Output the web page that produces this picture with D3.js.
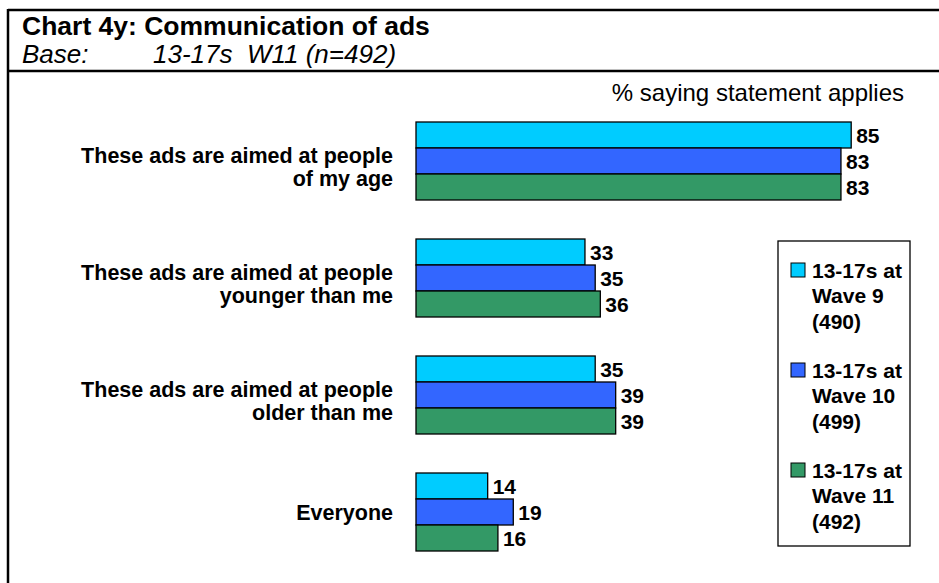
<!DOCTYPE html>
<html>
<head>
<meta charset="utf-8">
<script src="https://cdn.jsdelivr.net/npm/d3@7"></script>
<style>
  body { margin: 0; background: #fff; }
  text { font-family: Arial, "Liberation Sans", sans-serif; fill: #000; }
</style>
</head>
<body>
<div id="chart"></div>
<script>
// chart data
var categories = ["age", "younger", "older", "everyone"];
var categoryLabels = [
  ["These ads are aimed at people", "of my age"],
  ["These ads are aimed at people", "younger than me"],
  ["These ads are aimed at people", "older than me"],
  ["Everyone"]
];
var seriesNames = ["wave9", "wave10", "wave11"];
var legendLabels = [
  ["13-17s at", "Wave 9", "(490)"],
  ["13-17s at", "Wave 10", "(499)"],
  ["13-17s at", "Wave 11", "(492)"]
];
var wave9 = [85, 33, 35, 14];
var wave10 = [83, 35, 39, 19];
var wave11 = [83, 36, 39, 16];
var colors = ["#00ccff", "#3366ff", "#339966"];

var svgWidth = 939;
var svgHeight = 583;

var svg = d3.select("#chart")
  .append("svg")
  .attr("width", svgWidth)
  .attr("height", svgHeight);

// frame + header
svg.append("line").attr("x1", 8).attr("x2", svgWidth).attr("y1", 10).attr("y2", 10)
  .attr("stroke", "#000").attr("stroke-width", 2.5);
svg.append("line").attr("x1", 8).attr("x2", 8).attr("y1", 9).attr("y2", svgHeight)
  .attr("stroke", "#000").attr("stroke-width", 2.5);
svg.append("line").attr("x1", 8).attr("x2", svgWidth).attr("y1", 71).attr("y2", 71)
  .attr("stroke", "#000").attr("stroke-width", 2.5);

svg.append("text").attr("x", 22).attr("y", 35)
  .style("font-size", "26.5px").style("font-weight", "bold")
  .text("Chart 4y: Communication of ads");
svg.append("text").attr("x", 22).attr("y", 63)
  .style("font-size", "26px").style("font-style", "italic")
  .text("Base:");
svg.append("text").attr("x", 153).attr("y", 63)
  .style("font-size", "26px").style("font-style", "italic")
  .attr("xml:space", "preserve")
  .text("13-17s  W11 (n=492)");

svg.append("text").attr("x", 904).attr("y", 101)
  .attr("text-anchor", "end")
  .style("font-size", "24px")
  .text("% saying statement applies");

// scales
var xScale = d3.scaleLinear().domain([0, 100]).range([416, 928]);
var yScale = d3.scaleBand().domain(categories).range([122, 551])
  .paddingInner(1 / 3).paddingOuter(0);
var ySub = d3.scaleBand().domain(seriesNames).range([0, yScale.bandwidth()]);

var seriesValues = { wave9: wave9, wave10: wave10, wave11: wave11 };
var color = d3.scaleOrdinal().domain(seriesNames).range(colors);

var groups = svg.selectAll(".cat")
  .data(categories)
  .enter()
  .append("g")
  .attr("class", "cat")
  .attr("transform", d => `translate(0, ${yScale(d)})`);

groups.selectAll("rect")
  .data((d, i) => seriesNames.map(s => ({ s: s, v: seriesValues[s][i] })))
  .enter()
  .append("rect")
  .attr("x", xScale(0))
  .attr("y", d => ySub(d.s))
  .attr("width", d => xScale(d.v) - xScale(0))
  .attr("height", ySub.bandwidth())
  .attr("fill", d => color(d.s))
  .attr("stroke", "#000")
  .attr("stroke-width", 1.3);

groups.selectAll(".val")
  .data((d, i) => seriesNames.map(s => ({ s: s, v: seriesValues[s][i] })))
  .enter()
  .append("text")
  .attr("class", "val")
  .attr("x", d => xScale(d.v) + 5)
  .attr("y", d => ySub(d.s) + ySub.bandwidth() / 2)
  .attr("dy", "0.36em")
  .style("font-size", "21px").style("font-weight", "bold")
  .text(d => d.v);

// category labels
groups.each(function(d, i) {
  var lines = categoryLabels[i];
  var mid = yScale.bandwidth() / 2;
  var offsets = lines.length === 1 ? [0] : [-6, 17];
  var g = d3.select(this);
  lines.forEach(function(l, j) {
    g.append("text")
      .attr("x", 393)
      .attr("y", mid + offsets[j])
      .attr("dy", "0.36em")
      .attr("text-anchor", "end")
      .style("font-size", "21.5px").style("font-weight", "bold")
      .text(l);
  });
});

// legend
var legend = svg.append("g");
legend.append("rect")
  .attr("x", 778).attr("y", 241).attr("width", 132).attr("height", 305)
  .attr("fill", "#fff").attr("stroke", "#000").attr("stroke-width", 1.3);

var items = legend.selectAll(".item")
  .data(seriesNames)
  .enter()
  .append("g")
  .attr("class", "item")
  .attr("transform", (d, i) => `translate(0, ${270 + i * 100})`);

items.append("rect")
  .attr("x", 791).attr("y", -7).attr("width", 14).attr("height", 14)
  .attr("fill", d => color(d))
  .attr("stroke", "#000").attr("stroke-width", 1);

items.each(function(d, i) {
  var g = d3.select(this);
  legendLabels[i].forEach(function(l, j) {
    g.append("text")
      .attr("x", 812)
      .attr("y", j * 25.5)
      .attr("dy", "0.36em")
      .style("font-size", "21px").style("font-weight", "bold")
      .text(l);
  });
});
</script>
</body>
</html>
